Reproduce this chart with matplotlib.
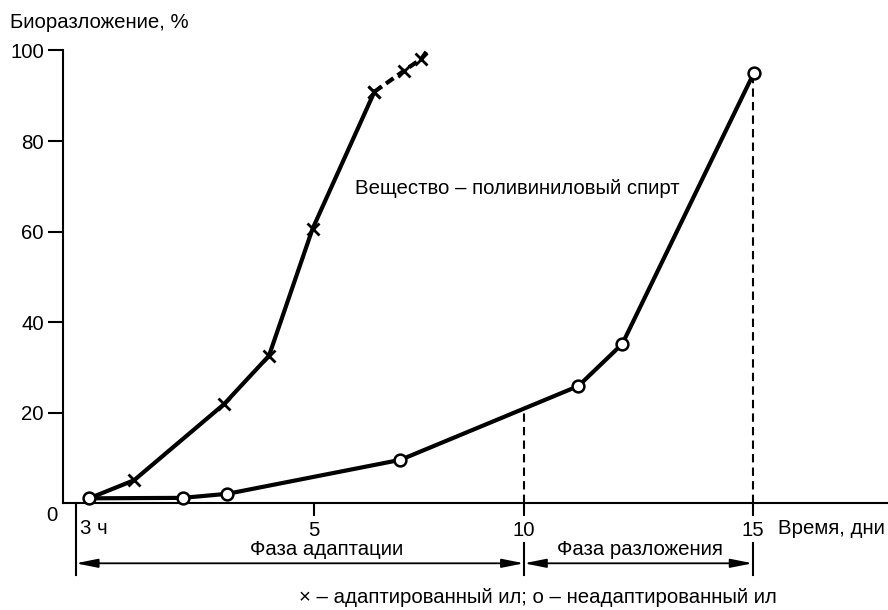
import numpy as np
import matplotlib.pyplot as plt

plt.rcParams['font.family'] = ['Liberation Sans', 'DejaVu Sans']
plt.rcParams['font.size'] = 14.7

# время, сутки; биоразложение, %
dni_adapt = [0.40, 1.32, 3.16, 4.08, 4.97, 6.44]
bio_adapt = [1.1, 5.1, 21.9, 32.6, 60.6, 90.9]
dni_adapt_hvost = [6.44, 7.14, 7.56, 7.72]
bio_adapt_hvost = [90.9, 95.5, 98.2, 100.3]
dni_neadapt = [0.40, 2.31, 3.23, 7.06, 11.19, 12.15, 15.03]
bio_neadapt = [1.1, 1.2, 2.1, 9.6, 25.9, 35.2, 95.1]
xticks = [5, 10, 15]
yticks = [20, 40, 60, 80, 100]
start = 0.125  # 3 ч

# шкала времени на рисунке неравномерная
T = [-1, 0.125, 5, 10, 15, 20]
P = [20.7, 75.7, 314, 524, 752.7, 981.4]
def fwd(x):
    return np.interp(x, T, P)
def inv(p):
    return np.interp(p, P, T)

fig = plt.figure(figsize=(8.88, 6.10), dpi=100)
ax = fig.add_axes([63/888, 1-503.3/610, 1-63/888, 452.8/610])
ax.set_xscale('function', functions=(fwd, inv))
ax.set_xlim(-0.135, 17.96)
ax.set_ylim(0, 100)

for s in ['top', 'right']:
    ax.spines[s].set_visible(False)
for s in ['left', 'bottom']:
    ax.spines[s].set_linewidth(1.5)

ax.set_yticks(yticks)
ax.tick_params(axis='y', length=10.8, width=1.5, pad=3)
ax.set_xticks(xticks)
ax.set_xticklabels([str(t) for t in xticks])
ax.tick_params(axis='x', length=9, width=1.5, pad=4)

lw = 3.0
ax.plot(dni_adapt, bio_adapt, color='black', lw=lw, marker='x', ms=8, mew=2,
        markevery=list(range(1, len(dni_adapt))), zorder=3)
ax.plot(dni_adapt_hvost, bio_adapt_hvost, color='black', lw=lw, ls=(0, (2.2, 1.2)),
        marker='x', ms=8, mew=2, markevery=[0, 1, 2], zorder=3, clip_on=False)
ax.plot(dni_neadapt, bio_neadapt, color='black', lw=lw, marker='o', ms=8.5, mew=1.8,
        mfc='white', zorder=4, clip_on=False)

# пунктир на 10 и 15 сутках
v10 = np.interp(fwd(10), fwd(np.array(dni_neadapt)), bio_neadapt)
ax.plot([10, 10], [0, v10], color='black', lw=1.5, ls=(0, (4, 2.5)))
ax.plot([15, 15], [0, bio_neadapt[-1]], color='black', lw=1.5, ls=(0, (4, 2.5)))

# границы фаз под осью
ax.plot([start, start], [0, -15.8], color='black', lw=1.5, clip_on=False)
for t in [10, 15]:
    ax.plot([t, t], [-8.7, -15.8], color='black', lw=1.5, clip_on=False)

arr = dict(arrowstyle='<|-|>,head_length=0.9,head_width=0.18', color='black',
           lw=1.3, shrinkA=0, shrinkB=0)
ax.annotate('', xy=(start, -13.25), xytext=(10, -13.25), arrowprops=arr,
            annotation_clip=False)
ax.annotate('', xy=(10, -13.25), xytext=(15, -13.25), arrowprops=arr,
            annotation_clip=False)

ax.text(5.3, -10.3, 'Фаза адаптации', ha='center', va='center')
ax.text(12.54, -10.3, 'Фаза разложения', ha='center', va='center')
ax.text(0.213, -5.46, '3 ч', ha='left', va='center')
ax.text(-0.36, -2.8, '0', ha='center', va='center')
ax.text(15.55, -5.46, 'Время, дни', ha='left', va='center')
ax.text(5.976, 69.6, 'Вещество – поливиниловый спирт', ha='left', va='center')
ax.text(10.3, -20.7, '× – адаптированный ил; о – неадаптированный ил',
        ha='center', va='center')

fig.text(10/888, 1-22/610, 'Биоразложение, %', ha='left', va='center')

fig.savefig('out.png', dpi=100)
